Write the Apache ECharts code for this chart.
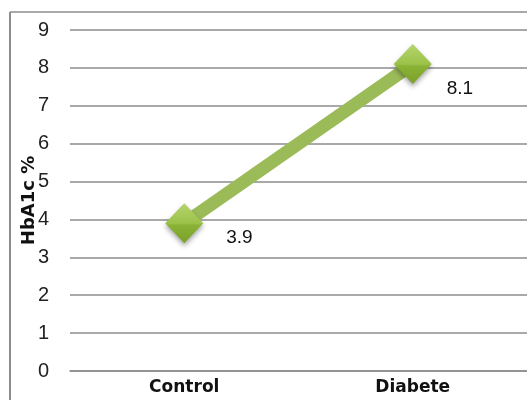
<!DOCTYPE html>
<html>
<head>
<meta charset="utf-8">
<script src="https://cdn.jsdelivr.net/npm/echarts@6/dist/echarts.min.js"></script>
<style>
  html, body { margin: 0; padding: 0; background: #fff; }
  #chart { width: 527px; height: 400px; }
</style>
</head>
<body>
<div id="chart"></div>
<script>
// Mean HbA1c by group
const groups = ['Control', 'Diabete'];
const hba1c = [3.9, 8.1];
const yTicks = [0, 1, 2, 3, 4, 5, 6, 7, 8, 9];

// value labels sit below-right of each marker
const labelShift = [[18, 15], [10, 25]];

const chart = echarts.init(document.getElementById('chart'), null, { renderer: 'canvas' });

chart.setOption({
  animation: false,
  backgroundColor: '#ffffff',
  grid: { left: 70, right: -3, top: 30, bottom: 29 },
  graphic: [
    // frame on left and top of the plot area
    { type: 'line', shape: { x1: 10, y1: 12, x2: 10, y2: 400 }, style: { stroke: '#8c8c8c', lineWidth: 2 } },
    { type: 'line', shape: { x1: 10, y1: 12, x2: 527, y2: 12 }, style: { stroke: '#8c8c8c', lineWidth: 1.5 } }
  ],
  xAxis: {
    type: 'category',
    data: groups,
    boundaryGap: true,
    axisLine: { show: true, lineStyle: { color: '#8c8c8c', width: 1.5 } },
    axisTick: { show: false },
    axisLabel: {
      margin: 8,
      fontFamily: 'DejaVu Sans',
      fontWeight: 'bold',
      fontSize: 17,
      color: '#111'
    }
  },
  yAxis: {
    type: 'value',
    min: yTicks[0],
    max: yTicks[yTicks.length - 1],
    interval: 1,
    name: 'HbA1c %',
    nameLocation: 'middle',
    nameRotate: 90,
    nameGap: 32,
    nameMoveOverlap: false,
    nameTextStyle: { fontFamily: 'DejaVu Sans', fontWeight: 'bold', fontSize: 18, color: '#111' },
    axisLine: { show: false },
    axisTick: { show: false },
    axisLabel: {
      margin: 21,
      fontFamily: 'Liberation Sans',
      fontSize: 20,
      color: '#222'
    },
    splitLine: { show: true, lineStyle: { color: '#8c8c8c', width: 1.5 } }
  },
  series: [{
    type: 'line',
    data: hba1c.map((v, i) => ({ value: v, label: { offset: labelShift[i] } })),
    lineStyle: { color: '#9bbb59', width: 13 },
    symbol: 'diamond',
    symbolSize: [38, 40],
    itemStyle: {
      color: new echarts.graphic.LinearGradient(0, 0, 0, 1, [
        { offset: 0, color: '#b5d46c' },
        { offset: 0.5, color: '#9cc24a' },
        { offset: 0.55, color: '#8ab235' },
        { offset: 1, color: '#7aa22c' }
      ]),
      shadowColor: 'rgba(0,0,0,0.35)',
      shadowBlur: 5,
      shadowOffsetY: 3
    },
    label: {
      show: true,
      position: 'right',
      fontFamily: 'Liberation Sans',
      fontSize: 19,
      color: '#111',
      formatter: p => Number(p.value).toFixed(1)
    },
    z: 3
  }]
});
</script>
</body>
</html>
